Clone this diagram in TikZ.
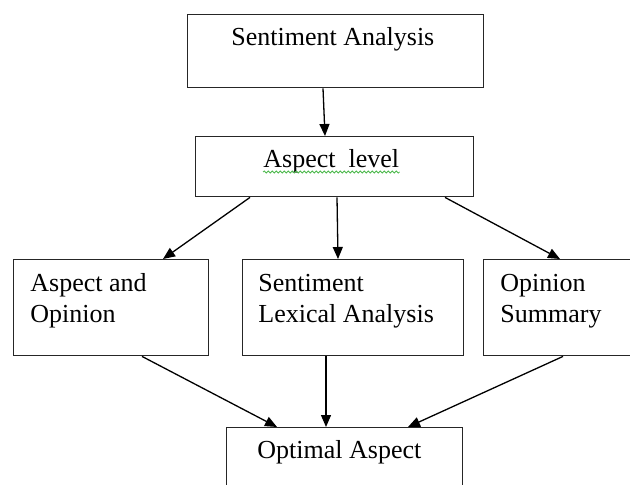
\documentclass[tikz,border=0pt]{standalone}
\usepackage{fontspec}
\setmainfont{Liberation Serif}
\usepackage{tikz}
\usetikzlibrary{arrows.meta,decorations.pathmorphing}

\begin{document}
\begin{tikzpicture}[x=0.5pt,y=-0.5pt,>={Triangle[length=6pt,width=5pt]},
  box/.style={draw=black!85,line width=0.7pt,rectangle,inner sep=0pt,anchor=north west},
  txt/.style={inner sep=0pt,anchor=base west,align=left,
    font=\fontsize{13}{15.5}\selectfont},
  conn/.style={->,line width=0.65pt}]
  \useasboundingbox (0,0) rectangle (630,485);
  % boxes
  \node[box,minimum width=148pt,minimum height=36.5pt] (sa) at (187,14) {};
  \node[box,minimum width=139pt,minimum height=30pt] (al) at (195,136) {};
  \node[box,minimum width=97.5pt,minimum height=48pt] (ao) at (13,259) {};
  \node[box,minimum width=110.5pt,minimum height=48pt] (sl) at (242,259) {};
  \node[box,minimum width=80pt,minimum height=48pt] (os) at (483,259) {};
  \node[box,minimum width=118pt,minimum height=40pt] (oa) at (226,427) {};
  % texts
  \node[txt] (sa-t) at ([xshift=22pt,yshift=-16pt]sa.north west) {Sentiment Analysis};
  \node[txt] (al-t) at ([xshift=34pt,yshift=-16pt]al.north west) {Aspect\ \ level};
  \node[txt] (ao-t) at ([xshift=8.5pt,yshift=-32pt]ao.north west) {Aspect and\\Opinion};
  \node[txt] (sl-t) at ([xshift=8pt,yshift=-32pt]sl.north west) {Sentiment\\Lexical Analysis};
  \node[txt] (os-t) at ([xshift=8.5pt,yshift=-32pt]os.north west) {Opinion\\Summary};
  \node[txt] (oa-t) at ([xshift=15.5pt,yshift=-15.5pt]oa.north west) {Optimal Aspect};
  \draw[green!60!black!70,line width=0.4pt,decorate,
    decoration={snake,amplitude=0.5pt,segment length=2pt}]
    ([yshift=-2pt]al-t.base west) -- ([yshift=-2pt]al-t.base east);
  % connectors
  \draw[conn] ([xshift=68pt]sa.south west) -- ([xshift=65pt]al.north west);
  \draw[conn] ([xshift=27.5pt]al.south west) -- ([xshift=75pt]ao.north west);
  \draw[conn] ([xshift=71pt]al.south west) -- ([xshift=48pt]sl.north west);
  \draw[conn] ([xshift=125pt]al.south west) -- ([xshift=38.5pt]os.north west);
  \draw[conn] ([xshift=64.5pt]ao.south west) -- ([xshift=25.5pt]oa.north west);
  \draw[conn] ([xshift=42pt]sl.south west) -- ([xshift=50pt]oa.north west);
  \draw[conn] ([xshift=40pt]os.south west) -- ([xshift=91pt]oa.north west);
\end{tikzpicture}
\end{document}
